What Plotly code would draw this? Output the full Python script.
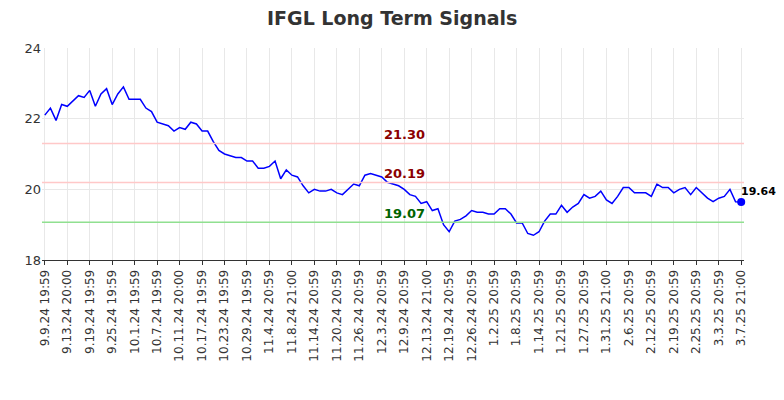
import plotly.graph_objects as go

values = [22.1,22.3,21.95,22.4,22.35,22.5,22.65,22.6,22.8,22.35,22.7,22.85,22.4,22.7,22.9,22.55,22.55,22.55,22.3,22.2,
21.9,21.85,21.8,21.65,21.75,21.7,21.9,21.85,21.65,21.65,21.35,21.1,21.0,20.95,20.9,20.9,20.8,20.8,20.6,20.6,
20.65,20.8,20.3,20.55,20.4,20.35,20.1,19.9,20.0,19.95,19.95,20.0,19.9,19.85,20.0,20.15,20.1,20.4,20.45,20.4,
20.35,20.2,20.15,20.1,20.0,19.85,19.8,19.6,19.65,19.4,19.45,19.0,18.8,19.1,19.15,19.25,19.4,19.35,19.35,19.3,
19.3,19.45,19.45,19.3,19.05,19.05,18.75,18.7,18.8,19.1,19.3,19.3,19.55,19.35,19.5,19.6,19.85,19.75,19.8,19.95,
19.7,19.6,19.8,20.05,20.05,19.9,19.9,19.9,19.8,20.15,20.05,20.05,19.9,20.0,20.05,19.85,20.05,19.9,19.75,19.65,
19.75,19.8,20.0,19.65,19.64]
tick_labels = ["9.9.24 19:59","9.13.24 20:00","9.19.24 19:59","9.25.24 19:59","10.1.24 19:59","10.7.24 19:59",
"10.11.24 20:00","10.17.24 19:59","10.23.24 19:59","10.29.24 19:59","11.4.24 20:59","11.8.24 21:00",
"11.14.24 20:59","11.20.24 20:59","11.26.24 20:59","12.3.24 20:59","12.9.24 20:59","12.13.24 21:00",
"12.19.24 20:59","12.26.24 20:59","1.2.25 20:59","1.8.25 20:59","1.14.25 20:59","1.21.25 20:59",
"1.27.25 20:59","1.31.25 21:00","2.6.25 20:59","2.12.25 20:59","2.19.25 20:59","2.25.25 20:59",
"3.3.25 20:59","3.7.25 21:00"]
levels = [21.30, 20.19, 19.07]
level_colors = ["#ffc8c8", "#ffc8c8", "#90e090"]
label_colors = ["darkred", "darkred", "darkgreen"]

n = len(values)
x = list(range(n))
step = (n - 1) / (len(tick_labels) - 1)
tickvals = [i * step for i in range(len(tick_labels))]

fig = go.Figure()
fig.add_trace(go.Scatter(x=x, y=values, mode="lines", line=dict(color="blue", width=1.5), hoverinfo="skip"))
fig.add_trace(go.Scatter(x=[x[-1]], y=[values[-1]], mode="markers", marker=dict(color="blue", size=8), cliponaxis=False))
for lv, c, lc in zip(levels, level_colors, label_colors):
    fig.add_shape(type="line", xref="paper", x0=0, x1=1, y0=lv, y1=lv, line=dict(color=c, width=1.5))
    fig.add_annotation(x=64, y=lv, text=f"<b>{lv:.2f}</b>", showarrow=False, yshift=9,
                       font=dict(color=lc, size=13, family="DejaVu Sans"))
fig.add_annotation(x=x[-1], y=values[-1], text=f"<b>{values[-1]:.2f}</b>", showarrow=False,
                   xanchor="left", xshift=-2, yshift=11, font=dict(size=11, color="black", family="DejaVu Sans"))
fig.update_layout(
    width=784, height=400, showlegend=False, plot_bgcolor="white", paper_bgcolor="white",
    margin=dict(l=34, r=48, t=40, b=148, autoexpand=False),
    title=dict(text="<b>IFGL Long Term Signals</b>", x=0.49, y=0.973, xanchor="center", yanchor="middle",
               font=dict(size=19, color="#333", family="DejaVu Sans")),
    font=dict(family="DejaVu Sans", size=12, color="#333"),
    xaxis=dict(tickvals=tickvals, ticktext=tick_labels, tickangle=-90, range=[-0.5, n - 0.5],
               showgrid=True, gridcolor="#e8e8e8", showline=True, linecolor="#333", zeroline=False,
               ticks="outside", ticklen=4, tickcolor="#333", automargin=False),
    yaxis=dict(range=[18, 24], tickvals=[18, 20, 22, 24], showgrid=True, gridcolor="#e8e8e8",
               zeroline=False, ticks="", tickfont=dict(size=13), automargin=False),
)
fig.write_html("out.html")
